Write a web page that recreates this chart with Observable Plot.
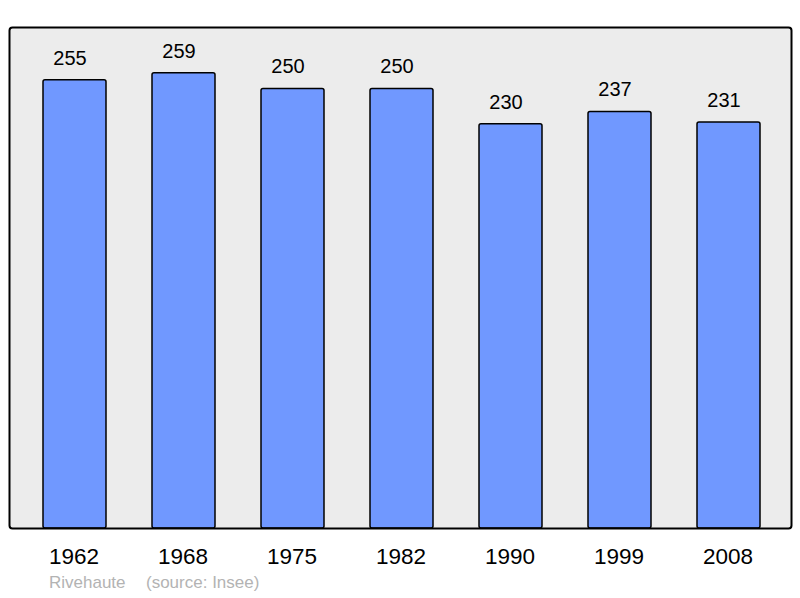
<!DOCTYPE html>
<html>
<head>
<meta charset="utf-8">
<script src="https://cdn.jsdelivr.net/npm/d3@7"></script>
<script src="https://cdn.jsdelivr.net/npm/@observablehq/plot@0.6"></script>
<style>
  html, body { margin: 0; padding: 0; background: #fff; }
  svg { display: block; }
</style>
</head>
<body>
<div id="chart"></div>
<script>
const years = ["1962", "1968", "1975", "1982", "1990", "1999", "2008"];
const population = [255, 259, 250, 250, 230, 237, 231];
const commune = "Rivehaute";
const source = "(source: Insee)";

const data = years.map((y, i) => ({year: y, value: population[i]}));

const chart = Plot.plot({
  width: 800,
  height: 598,
  marginLeft: 9,
  marginRight: 9,
  marginTop: 27,
  marginBottom: 70,
  style: {fontFamily: "'Liberation Sans', Arial, sans-serif", background: "#fff"},
  x: {domain: years, range: [9.5, 794], paddingInner: 0.424, paddingOuter: 0.286, label: null},
  y: {domain: [0, 285], axis: null},
  marks: [
    Plot.frame({fill: "#ececec", stroke: "none", rx: 3}),
    Plot.barY(data, {x: "year", y: "value", fill: "#7098ff", stroke: "#000", strokeWidth: 1.5, rx: 2}),
    Plot.text(data, {x: "year", y: "value", text: d => String(d.value), dx: -5, dy: -22, fontSize: 20, fill: "#000"}),
    Plot.axisX({tickSize: 0, tickPadding: 20, fontSize: 22.5, fill: "#000", label: null, dx: -1}),
    Plot.frame({fill: "none", stroke: "#000", strokeWidth: 2, rx: 3}),
    Plot.text([commune], {frameAnchor: "bottom-left", dx: 39.5, dy: 59, text: d => d, fontSize: 17, fill: "#b3b3b3", textAnchor: "start"}),
    Plot.text([source], {frameAnchor: "bottom-left", dx: 136.5, dy: 59, text: d => d, fontSize: 17, fill: "#b3b3b3", textAnchor: "start"})
  ]
});
document.getElementById("chart").appendChild(chart);
</script>
</body>
</html>
